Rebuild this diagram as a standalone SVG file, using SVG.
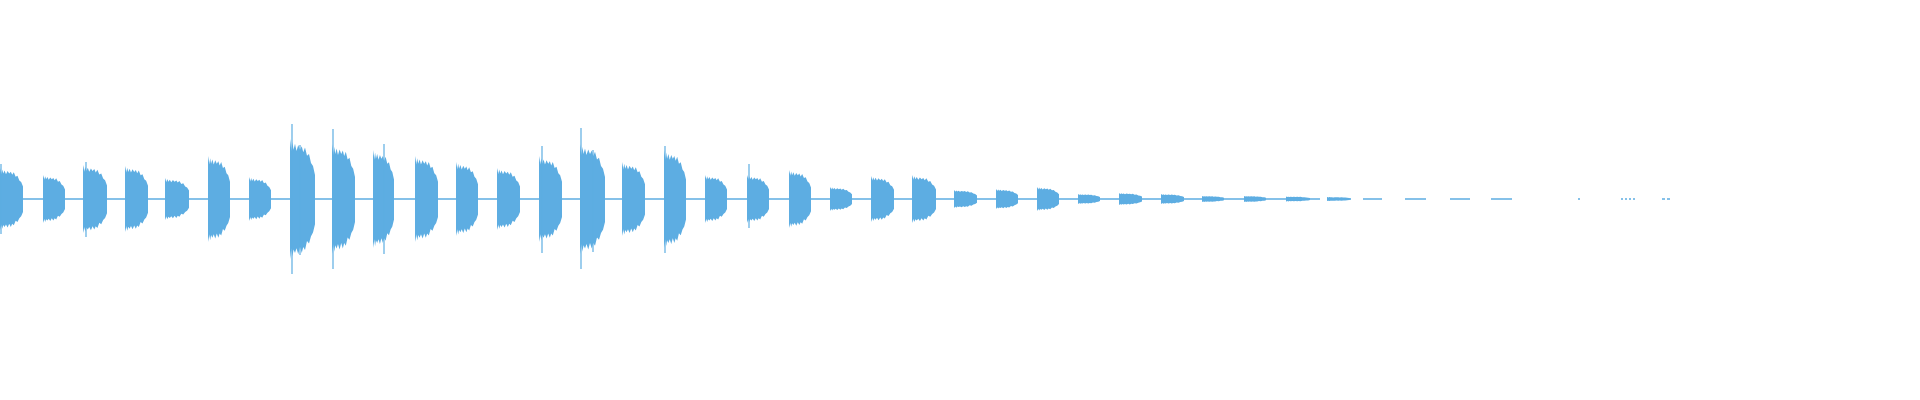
<svg xmlns="http://www.w3.org/2000/svg" width="1920" height="400" viewBox="0 0 1920 400">
<style>.w{fill:#5DADE2}.b{stroke:#5DADE2;stroke-width:1.5}.s{stroke:#5DADE2;stroke-width:1.2}</style>
<defs>
<polygon id="u" points="0,-0.85 0.03,-1 0.06,-0.8 0.1,-0.95 0.14,-0.82 0.2,-0.92 0.26,-0.8 0.33,-0.9 0.4,-0.82 0.47,-0.88 0.53,-0.78 0.6,-0.86 0.68,-0.72 0.76,-0.75 0.84,-0.6 0.92,-0.55 1,-0.4 1,0.42 0.92,0.56 0.84,0.62 0.76,0.74 0.68,0.7 0.6,0.85 0.53,0.8 0.47,0.9 0.4,0.8 0.33,0.92 0.26,0.82 0.2,0.9 0.14,0.84 0.1,0.96 0.06,0.82 0.03,1 0,0.86"/>
</defs>
<g id="baseline">
<line class="b" x1="0" y1="199" x2="1320" y2="199"/>
<line class="b" x1="1363" y1="199" x2="1382" y2="199"/>
<line class="b" x1="1405" y1="199" x2="1426" y2="199"/>
<line class="b" x1="1450" y1="199" x2="1470" y2="199"/>
<line class="b" x1="1491" y1="199" x2="1512" y2="199"/>
<line class="b" x1="1578" y1="199" x2="1580" y2="199"/>
<line class="b" x1="1621" y1="199" x2="1635" y2="199" stroke-dasharray="2 2"/>
<line class="b" x1="1662" y1="199" x2="1672" y2="199" stroke-dasharray="3 2"/>
</g>
<g id="bursts" class="w">
<use href="#u" transform="translate(0,199) scale(23,31)"/>
<use href="#u" transform="translate(43,199) scale(22,24)"/>
<use href="#u" transform="translate(83,199) scale(24,34)"/>
<use href="#u" transform="translate(125,199) scale(23,33)"/>
<use href="#u" transform="translate(165,199) scale(24,21)"/>
<use href="#u" transform="translate(208,199) scale(22,43)"/>
<use href="#u" transform="translate(249,199) scale(22,22)"/>
<use href="#u" transform="translate(290,199) scale(25,60)"/>
<use href="#u" transform="translate(332,199) scale(23,55)"/>
<use href="#u" transform="translate(373,199) scale(21,49)"/>
<use href="#u" transform="translate(415,199) scale(23,43)"/>
<use href="#u" transform="translate(456,199) scale(22,37)"/>
<use href="#u" transform="translate(497,199) scale(23,31)"/>
<use href="#u" transform="translate(539,199) scale(23,43)"/>
<use href="#u" transform="translate(580,199) scale(25,55)"/>
<use href="#u" transform="translate(622,199) scale(23,37)"/>
<use href="#u" transform="translate(664,199) scale(22,49)"/>
<use href="#u" transform="translate(705,199) scale(22,24)"/>
<use href="#u" transform="translate(747,199) scale(22,24)"/>
<use href="#u" transform="translate(789,199) scale(22,29)"/>
<use href="#u" transform="translate(830,199) scale(22,12)"/>
<use href="#u" transform="translate(871,199) scale(23,23)"/>
<use href="#u" transform="translate(912,199) scale(24,24)"/>
<use href="#u" transform="translate(954,199) scale(23,9)"/>
<use href="#u" transform="translate(996,199) scale(22,10)"/>
<use href="#u" transform="translate(1037,199) scale(22,12)"/>
<use href="#u" transform="translate(1078,199) scale(22,5)"/>
<use href="#u" transform="translate(1119,199) scale(23,6)"/>
<use href="#u" transform="translate(1161,199) scale(23,5)"/>
<use href="#u" transform="translate(1202,199) scale(22,3)"/>
<use href="#u" transform="translate(1244,199) scale(22,3)"/>
<use href="#u" transform="translate(1286,199) scale(24,2.5)"/>
<use href="#u" transform="translate(1327,199) scale(24,2)"/>
</g>
<g id="spikes">
<line class="s" x1="292" y1="124" x2="292" y2="274"/>
<line class="s" x1="300" y1="145" x2="300" y2="255"/>
<line class="s" x1="333" y1="129" x2="333" y2="269"/>
<line class="s" x1="581" y1="128" x2="581" y2="269"/>
<line class="s" x1="593" y1="150" x2="593" y2="252"/>
<line class="s" x1="542" y1="146" x2="542" y2="253"/>
<line class="s" x1="665" y1="146" x2="665" y2="253"/>
<line class="s" x1="384" y1="144" x2="384" y2="254"/>
<line class="s" x1="1" y1="164" x2="1" y2="234"/>
<line class="s" x1="86" y1="162" x2="86" y2="237"/>
<line class="s" x1="749" y1="164" x2="749" y2="228"/>
</g>
</svg>
